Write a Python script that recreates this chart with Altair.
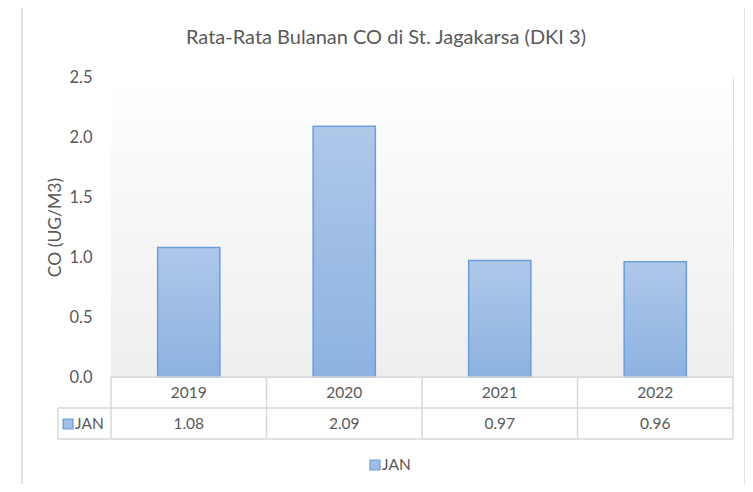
import altair as alt
import pandas as pd

years = ["2019", "2020", "2021", "2022"]
values = [1.08, 2.09, 0.97, 0.96]
series = ["JAN"]
boundaries = [0, 1, 2, 3, 4]
y_ticks = [0.0, 0.5, 1.0, 1.5, 2.0, 2.5]
title_text = "Rata-Rata Bulanan CO di St. Jagakarsa (DKI 3)"
y_title = "CO (UG/M3)"

FONT = "Lato"
TXT = "#595959"
GRID = "#d9d9d9"
W, H = 622, 300

df = pd.DataFrame({"year": years, "value": values})
bdf = pd.DataFrame({"b": boundaries})
sdf = pd.DataFrame({"s": series})
tdf = pd.DataFrame({"t": [title_text]})

xscale = alt.Scale(domain=years, paddingInner=0.6, paddingOuter=0.3)
yscale = alt.Scale(domain=[0, 2.5])

bg = alt.Chart(tdf).mark_rect(
    color=alt.Gradient(gradient="linear", x1=0, x2=0, y1=0, y2=1,
                       stops=[alt.GradientStop(color="#ffffff", offset=0),
                              alt.GradientStop(color="#fbfbfb", offset=0.2),
                              alt.GradientStop(color="#eeeeee", offset=1)])
).encode(x=alt.value(0), x2=alt.value(W), y=alt.value(0), y2=alt.value(H))

frame = alt.Chart(tdf).mark_rect(fill=None, stroke=GRID, strokeWidth=1.5).encode(
    x=alt.value(-89), x2=alt.value(634), y=alt.value(-72), y2=alt.value(520))

bars = alt.Chart(df).mark_bar(
    color=alt.Gradient(gradient="linear", x1=0, x2=0, y1=0, y2=1,
                       stops=[alt.GradientStop(color="#aec8e9", offset=0),
                              alt.GradientStop(color="#8db2e1", offset=1)]),
    stroke="#6c9dd8", strokeWidth=1.5
).encode(
    x=alt.X("year:N", scale=xscale, axis=None),
    y=alt.Y("value:Q", scale=yscale,
            axis=alt.Axis(values=y_ticks, format=".1f", domain=False, ticks=False, grid=False,
                          labelPadding=19, labelFont=FONT, labelFontSize=16.5, labelColor=TXT,
                          title=y_title, titleFont=FONT, titleFontSize=17.5, titleColor=TXT,
                          titleFontWeight="normal", titleX=-56, titleY=150,
                          titleAlign="center", titleBaseline="middle")),
)

year_txt = alt.Chart(df).mark_text(font=FONT, fontSize=15.5, color=TXT, baseline="middle").encode(
    x=alt.X("year:N", scale=xscale, axis=None), y=alt.value(316), text="year:N")

val_txt = alt.Chart(df).mark_text(font=FONT, fontSize=15.5, color=TXT, baseline="middle").encode(
    x=alt.X("year:N", scale=xscale, axis=None), y=alt.value(347),
    text=alt.Text("value:Q", format=".2f"))

vrules = alt.Chart(bdf).mark_rule(color=GRID, strokeWidth=1.5).encode(
    x=alt.X("b:Q", scale=alt.Scale(domain=[0, 4], nice=False, zero=False), axis=None),
    y=alt.value(300), y2=alt.value(362))

hr1 = alt.Chart(tdf).mark_rule(color=GRID, strokeWidth=1.5).encode(
    x=alt.value(0), x2=alt.value(W), y=alt.value(300))
hr2 = alt.Chart(tdf).mark_rule(color=GRID, strokeWidth=1.5).encode(
    x=alt.value(-53), x2=alt.value(W), y=alt.value(331))
hr3 = alt.Chart(tdf).mark_rule(color=GRID, strokeWidth=1.5).encode(
    x=alt.value(-53), x2=alt.value(W), y=alt.value(362))
vl = alt.Chart(tdf).mark_rule(color=GRID, strokeWidth=1.5).encode(
    x=alt.value(-53), y=alt.value(331), y2=alt.value(362))

tbl_sym = alt.Chart(sdf).mark_square(size=100, fill="#9fbde6", stroke="#6c9dd8",
                                     strokeWidth=1.2, opacity=1).encode(
    x=alt.value(-43), y=alt.value(347))
tbl_lab = alt.Chart(sdf).mark_text(font=FONT, fontSize=15.5, color=TXT, align="left",
                                   baseline="middle").encode(
    x=alt.value(-36), y=alt.value(347), text="s:N")

leg_sym = alt.Chart(sdf).mark_square(size=100, fill="#9fbde6", stroke="#6c9dd8",
                                     strokeWidth=1.2, opacity=1).encode(
    x=alt.value(264), y=alt.value(388))
leg_lab = alt.Chart(sdf).mark_text(font=FONT, fontSize=15.5, color=TXT, align="left",
                                   baseline="middle").encode(
    x=alt.value(271), y=alt.value(388), text="s:N")

title = alt.Chart(tdf).mark_text(font=FONT, fontSize=20, color=TXT, align="center",
                                 baseline="middle").encode(
    x=alt.value(275), y=alt.value(-39), text="t:N")

chart = alt.layer(
    frame, bg, bars, vrules, hr1, hr2, hr3, vl, year_txt, val_txt,
    tbl_sym, tbl_lab, leg_sym, leg_lab, title
).resolve_scale(x="independent").properties(
    width=W, height=H,
    autosize=alt.AutoSizeParams(type="none"),
    padding={"left": 103, "top": 69, "right": 12, "bottom": 107},
).configure_view(stroke=None).configure(background="white")

chart.save("out.html", embed_options={"renderer": "svg", "actions": False})
